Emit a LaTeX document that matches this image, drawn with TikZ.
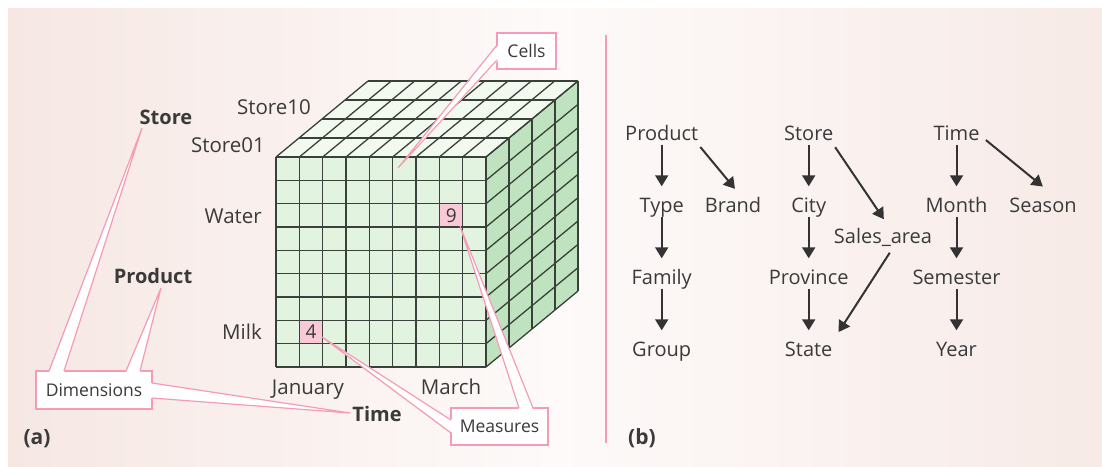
\documentclass[tikz,border=0pt]{standalone}
\usepackage{fontspec}
\setmainfont{Open Sans}
\usetikzlibrary{arrows.meta}
\definecolor{bgL}{HTML}{F6E7E3}
\definecolor{bgM}{HTML}{FDFAF9}
\definecolor{bgR}{HTML}{F7EAE7}
\definecolor{frontc}{HTML}{E2F4E0}
\definecolor{topc}{HTML}{F2FAF0}
\definecolor{sidec}{HTML}{BEE3BE}
\definecolor{gridc}{HTML}{3A403A}
\definecolor{pinkc}{HTML}{F59BB6}
\definecolor{cellpink}{HTML}{F9C9D7}
\definecolor{txt}{HTML}{3A3A3A}
\definecolor{arrc}{HTML}{333333}
\newcommand{\fsz}[1]{\fontsize{#1}{#1}\selectfont}
\begin{document}
\begin{tikzpicture}[x=1pt,y=-1pt,
  gridline/.style={draw=gridc,line width=1.3pt},
  lab/.style={font=\fsz{20.5},text=txt,inner sep=0,anchor=base},
  blab/.style={font=\fsz{20}\bfseries,text=txt,inner sep=0,anchor=base},
  cellnum/.style={font=\fsz{19},text=txt,inner sep=0},
  callbox/.style={draw=pinkc,fill=white,line width=1.2pt,inner sep=0,font=\fsz{17.5},text=txt},
  wedgefill/.style={fill=white},
  wedgeline/.style={draw=pinkc,line width=1.2pt,line join=miter},
  hnode/.style={font=\fsz{20},text=txt,inner sep=0,anchor=base,text height=14.5pt,text depth=4.5pt},
  arr/.style={draw=arrc,line width=2pt,-{Triangle[length=11pt,width=13pt]},shorten >=11pt},
  sep/.style={draw=pinkc,line width=2.5pt}]
\useasboundingbox (0,0) rectangle (1102,466);
\shade[left color=bgL,right color=bgR,middle color=bgM] (8,8) rectangle (1102,466);

% ---- cube ----
\def\cw{23.3333}
\fill[frontc] (276,157) rectangle (486,367);
\fill[topc] (276,157) -- (486,157) -- (578,81) -- (368,81) -- cycle;
\fill[sidec] (486,157) -- (578,81) -- (578,291) -- (486,367) -- cycle;
\fill[cellpink] (299.33,320.33) rectangle ++(\cw,\cw);
\fill[cellpink] (439.67,203.67) rectangle ++(\cw,\cw);
\foreach \i in {0,...,9} {
  \draw[gridline] ({276+\i*\cw},157) -- ++(0,210);
  \draw[gridline] (276,{157+\i*\cw}) -- ++(210,0);
  \draw[gridline] ({276+\i*\cw},157) -- ++(92,-76);
  \draw[gridline] (486,{157+\i*\cw}) -- ++(92,-76);
}
\foreach \k in {1,...,4} {
  \draw[gridline] ({276+23*\k},{157-19*\k}) -- ++(210,0);
  \draw[gridline] ({486+23*\k},{157-19*\k}) -- ++(0,210);
}
\node[cellnum] (four) at (311,332) {4};
\node[cellnum] (nine) at (451.3,215.3) {9};

% ---- callout boxes ----
\node[callbox,minimum width=116pt,minimum height=38pt] (dims) at (94,390) {Dimensions};
\node[callbox,minimum width=97pt,minimum height=37pt] (meas) at (499.5,426.5) {Measures};
\node[callbox,minimum width=59pt,minimum height=36pt] (cells) at (526.5,51) {Cells};

% ---- labels ----
\node[blab] (store) at (166,124) {Store};
\node[blab] (product) at (153,283) {Product};
\node[blab] (time) at (377,421) {Time};
\coordinate (apS) at (142,128);
\coordinate (apP) at (161,288);
\coordinate (apT) at (350,413);
\coordinate (ap4) at (322,337);
\coordinate (ap9) at (460,226);
\coordinate (apC) at (398,168);

% wedges
\fill[wedgefill] (49,372.5) -- (apS) -- (64,372.5) -- cycle;
\draw[wedgeline] (49,371) -- (apS) -- (64,371);
\fill[wedgefill] (126,372.5) -- (apP) -- (140,372.5) -- cycle;
\draw[wedgeline] (126,371) -- (apP) -- (140,371);
\fill[wedgefill] (150.5,383) -- (apT) -- (150.5,398) -- cycle;
\draw[wedgeline] (152,383) -- (apT) -- (152,398);
\fill[wedgefill] (452.5,420) -- (ap4) -- (452.5,433) -- cycle;
\draw[wedgeline] (451,420) -- (ap4) -- (451,433);
\fill[wedgefill] (519,409.5) -- (ap9) -- (533,409.5) -- cycle;
\draw[wedgeline] (519,408) -- (ap9) -- (533,408);
\fill[wedgefill] (498.5,45) -- (apC) -- (498.5,60) -- cycle;
\draw[wedgeline] (497,45) -- (apC) -- (497,60);

\node[lab,anchor=base] (s10) at (274,114) {Store10};
\node[lab,anchor=base] (s01) at (228,152) {Store01};
\node[lab,anchor=base east] (water) at (262,223) {Water};
\node[lab,anchor=base east] (milk) at (262,339) {Milk};
\node[lab] (jan) at (308,394) {January};
\node[lab] (mar) at (451,394) {March};
\node[blab,font=\fsz{21}\bfseries] (pa) at (37,444) {(a)};
\node[blab,font=\fsz{21}\bfseries] (pb) at (642,444) {(b)};

% separator
\draw[sep] (606,35) -- (606,443);

% ---- hierarchies ----
\node[hnode] (Product) at (661.7,140) {Product};
\node[hnode] (Type) at (661.7,212) {Type};
\node[hnode] (Brand) at (733,212) {Brand};
\node[hnode] (Family) at (661.7,284) {Family};
\node[hnode] (Group) at (661.7,356) {Group};
\node[hnode] (Store) at (808.7,140) {Store};
\node[hnode] (City) at (808.7,212) {City};
\node[hnode] (Sales) at (883,243) {Sales\_area};
\node[hnode] (Province) at (808.7,284) {Province};
\node[hnode] (State) at (808.7,356) {State};
\node[hnode] (Time) at (956.5,140) {Time};
\node[hnode] (Month) at (956.5,212) {Month};
\node[hnode] (Season) at (1043,212) {Season};
\node[hnode] (Semester) at (956.5,284) {Semester};
\node[hnode] (Year) at (956.5,356) {Year};

\draw[arr] (Product.south) -- (Type.north);
\draw[arr,shorten <=3pt] (Product.south east) -- ([xshift=9pt]Brand.north);
\draw[arr] (Type.south) -- (Family.north);
\draw[arr] (Family.south) -- (Group.north);
\draw[arr] (Store.south) -- (City.north);
\draw[arr,shorten <=3pt] (Store.south east) -- ([xshift=7pt]Sales.north);
\draw[arr] (City.south) -- (Province.north);
\draw[arr] (Province.south) -- (State.north);
\draw[arr,shorten <=6pt] ([xshift=10pt]Sales.south) -- (State.north east);
\draw[arr] (Time.south) -- (Month.north);
\draw[arr,shorten <=8pt,shorten >=17pt] (Time.east) -- ([xshift=13pt]Season.north);
\draw[arr] (Month.south) -- (Semester.north);
\draw[arr] (Semester.south) -- (Year.north);
\end{tikzpicture}
\end{document}
